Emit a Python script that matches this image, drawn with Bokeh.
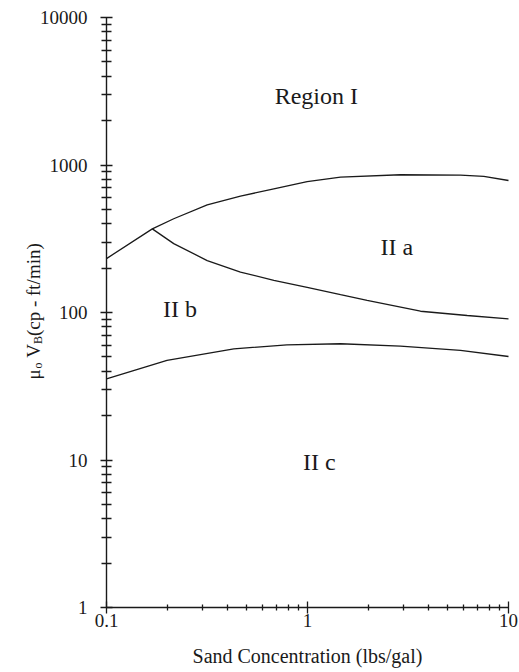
import math
from bokeh.plotting import figure
from bokeh.models import FixedTicker, Label
from bokeh.embed import file_html
from bokeh.resources import INLINE

# ---- data ----
upper_x = [0.1, 0.169, 0.216, 0.317, 0.464, 0.68, 0.996, 1.46, 2.9, 5.77, 7.54, 10.0]
upper_y = [232, 369, 432, 537, 615, 690, 772, 827, 859, 853, 836, 785]

middle_x = [0.169, 0.216, 0.317, 0.464, 0.68, 0.996, 1.46, 1.98, 3.65, 6.23, 10.0]
middle_y = [369, 293, 225, 188, 165, 148, 132, 121, 102, 95.4, 90.6]

lower_x = [0.1, 0.2, 0.43, 0.79, 1.46, 2.9, 5.77, 10.0]
lower_y = [35.5, 47.3, 56.7, 60.4, 61.4, 59.1, 55.3, 50.3]

region_names = ["Region I", "II a", "II b", "II c"]
region_x = [1.106, 2.78, 0.232, 1.145]
region_y = [2938, 277, 104.8, 9.62]

x_ticks = [0.1, 1, 10]
x_tick_labels = ["0.1", "1", "10"]
y_ticks = [1, 10, 100, 1000, 10000]
y_tick_labels = ["1", "10", "100", "1000", "10000"]

x_label = "Sand Concentration (lbs/gal)"
FONT = "Liberation Serif"
INK = "#1a1a1a"

# ---- layout: the frame fills the whole canvas, axes sit at fixed locations ----
W, H = 519, 672
AX_LEFT, AX_BOTTOM = 106, 607          # pixel position of x=0.1 and y=1
PXX = 201.0                            # pixels per x decade
PXY = 147.5                            # pixels per y decade

x_lo, x_hi = x_ticks[0], x_ticks[-1]
y_lo, y_hi = y_ticks[0], y_ticks[-1]
x_start = x_lo * 10 ** (-AX_LEFT / PXX)
x_end = x_lo * 10 ** ((W - AX_LEFT) / PXX)
y_start = y_lo * 10 ** (-(H - AX_BOTTOM) / PXY)
y_end = y_lo * 10 ** (AX_BOTTOM / PXY)

p = figure(width=W, height=H, x_axis_type="log", y_axis_type="log",
           x_range=(x_start, x_end), y_range=(y_start, y_end),
           output_backend="svg", toolbar_location=None,
           min_border=0, min_border_left=0, min_border_right=0,
           min_border_top=0, min_border_bottom=0)
p.outline_line_color = None
p.xgrid.visible = False
p.ygrid.visible = False
p.background_fill_color = "white"
p.border_fill_color = "white"


def minors(decades):
    return [m * d for d in decades for m in range(2, 10)]


p.xaxis.ticker = FixedTicker(ticks=x_ticks, minor_ticks=minors([0.1, 1]))
p.yaxis.ticker = FixedTicker(ticks=y_ticks, minor_ticks=minors([1, 10, 100, 1000]))
p.xaxis.major_label_overrides = {t: s for t, s in zip(x_ticks, x_tick_labels)}
p.yaxis.major_label_overrides = {t: s for t, s in zip(y_ticks, y_tick_labels)}
p.xaxis.fixed_location = y_lo
p.yaxis.fixed_location = x_lo
p.xaxis.bounds = (x_lo, x_hi)
p.yaxis.bounds = (y_lo, y_hi)

for ax in (p.xaxis[0], p.yaxis[0]):
    ax.axis_line_color = INK
    ax.axis_line_width = 1.4
    ax.major_tick_line_color = INK
    ax.minor_tick_line_color = INK
    ax.major_tick_line_width = 1.3
    ax.minor_tick_line_width = 1.3
    ax.major_label_text_font = FONT
    ax.major_label_text_font_size = "19px"
    ax.major_label_text_color = INK

p.xaxis.major_tick_in = 6
p.xaxis.major_tick_out = 6
p.xaxis.minor_tick_in = 3
p.xaxis.minor_tick_out = 3
p.xaxis.major_label_standoff = 0
p.xaxis.axis_label = x_label
p.xaxis.axis_label_text_font = FONT
p.xaxis.axis_label_text_font_size = "20px"
p.xaxis.axis_label_text_font_style = "normal"
p.xaxis.axis_label_text_color = INK
p.xaxis.axis_label_standoff = 15

p.yaxis.major_tick_in = 6
p.yaxis.major_tick_out = 6
p.yaxis.minor_tick_in = 5
p.yaxis.minor_tick_out = 5
p.yaxis.major_label_standoff = 13

# ---- curves ----
for xs, ys in ((upper_x, upper_y), (middle_x, middle_y), (lower_x, lower_y)):
    p.line(xs, ys, line_color=INK, line_width=1.3)

# ---- region labels ----
for name, x, y in zip(region_names, region_x, region_y):
    p.add_layout(Label(x=x, y=y, text=name, text_font=FONT, text_font_size="24px",
                       text_color=INK, text_align="center", text_baseline="middle"))


# ---- rotated y-axis label with subscripts ----
def to_data(sx, sy):
    return x_lo * 10 ** ((sx - AX_LEFT) / PXX), y_lo * 10 ** ((AX_BOTTOM - sy) / PXY)


# (text, font px, advance in em, baseline drop px, gap before in em)
y_label_parts = [("\u03bc", 19, 0.576, 0, 0.0), ("o", 12, 0.5, 4, 0.0),
                 ("V", 19, 0.722, 0, 0.25), ("B", 12, 0.667, 4, 0.0),
                 ("(cp - ft/min)", 19, 4.888, 0, 0.0)]
base_x = 33
s = 379
for txt, size, em, drop, gap in y_label_parts:
    s -= gap * 19
    dx, dy = to_data(base_x + drop, s)
    p.add_layout(Label(x=dx, y=dy, text=txt, angle=math.pi / 2, text_font=FONT,
                       text_font_size=f"{size}px", text_color=INK,
                       text_align="left", text_baseline="alphabetic"))
    s -= em * size

open("out.html", "w").write(file_html(p, INLINE))
